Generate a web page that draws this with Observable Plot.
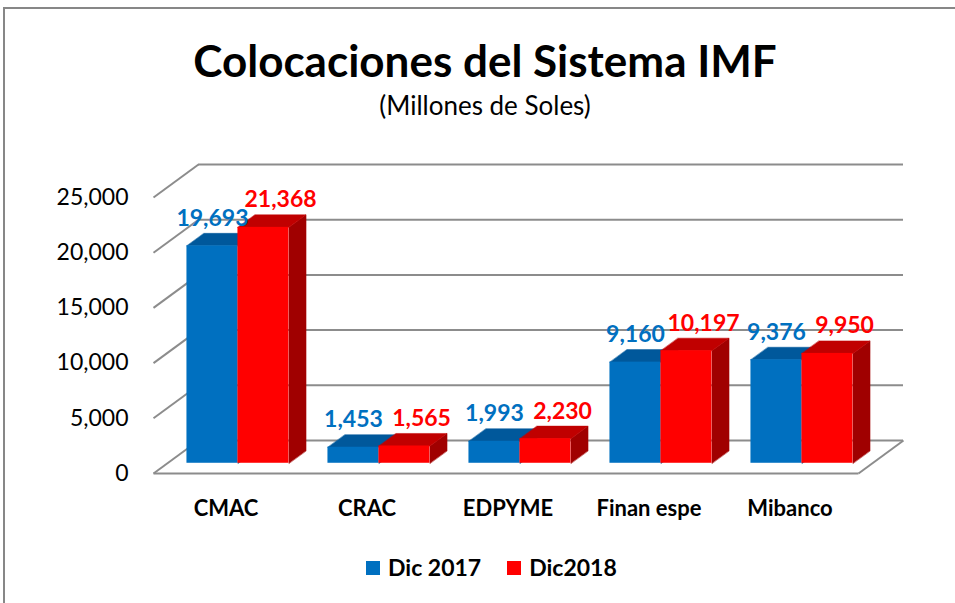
<!DOCTYPE html>
<html>
<head>
<meta charset="utf-8">
<script src="https://cdn.jsdelivr.net/npm/d3@7"></script>
<script src="https://cdn.jsdelivr.net/npm/@observablehq/plot@0.6"></script>
<style>
  html, body { margin: 0; padding: 0; background: #fff; overflow: hidden; width: 955px; height: 603px; }
  body { position: relative; font-family: Lato, sans-serif; color: #000; }
  #frame { position: absolute; left: 3px; top: 7px; width: 1000px; height: 700px;
           border-left: 2px solid #878787; border-top: 2px solid #878787; }
  #title { position: absolute; left: 0; width: 970px; top: 34px; text-align: center;
           font-weight: 700; font-size: 44px; line-height: 1.2; white-space: nowrap; }
  #subtitle { position: absolute; left: 0; width: 970px; top: 90px; text-align: center;
              font-weight: 400; font-size: 26px; line-height: 1.2; white-space: nowrap; }
  #chart { position: absolute; left: 0; top: 140px; }
  #legend { position: absolute; left: 366px; top: 554px; display: flex; align-items: center;
            font-weight: 700; font-size: 23px; line-height: 1.2; white-space: nowrap; }
  #legend .sw { display: inline-block; width: 14px; height: 14px; margin-right: 8px; }
  #legend .item { display: flex; align-items: center; }
  #legend .item + .item { margin-left: 26px; }
</style>
</head>
<body>
<div id="frame"></div>
<div id="title">Colocaciones del Sistema IMF</div>
<div id="subtitle">(Millones de Soles)</div>
<div id="chart"></div>
<div id="legend"></div>
<script>
// ---- data ----
const categories = ["CMAC", "CRAC", "EDPYME", "Finan espe", "Mibanco"];
const dic2017 = [19693, 1453, 1993, 9160, 9376];
const dic2018 = [21368, 1565, 2230, 10197, 9950];
const seriesNames = ["Dic 2017", "Dic2018"];
const yTicks = [0, 5000, 10000, 15000, 20000, 25000];

// ---- styles ----
const frontColors = ["#0070C0", "#FF0000"];
const topColors = ["#00589B", "#C00000"];
const sideColors = ["#004A80", "#A00000"];
const labelColors = ["#0070C0", "#FF0000"];
const gridColor = "#8C8C8C";

// ---- layout ----
const W = 955, H = 390, ML = 153, MR = 97, MT = 57, MB = 57;
const yMax = 25000;
const pxPerCat = (W - ML - MR) / categories.length;
const pxPerVal = (H - MT - MB) / yMax;
const DX = 45 / pxPerCat;   // wall depth, x units
const DV = 33 / pxPerVal;   // wall depth, value units
const F = 0.31;             // bar front plane as fraction of depth
const B = 0.38;             // bar depth as fraction of depth
const BW = 51 / pxPerCat;   // bar width, x units

const allSeries = [dic2017, dic2018];
const bars = [];
categories.forEach((c, i) => {
  allSeries.forEach((vals, s) => {
    const x1 = i + 0.5 - BW + s * BW + F * DX;
    const x2 = x1 + BW;
    const y0 = F * DV;
    const v = vals[i];
    bars.push({ c, s, v, x1, x2, y0, y1: v + y0 });
  });
});
const ddx = B * DX, ddv = B * DV;
const topPts = [], sidePts = [];
bars.forEach((b, k) => {
  const key = k;
  topPts.push(
    { key, s: b.s, x: b.x1, y: b.y1 },
    { key, s: b.s, x: b.x2, y: b.y1 },
    { key, s: b.s, x: b.x2 + ddx, y: b.y1 + ddv },
    { key, s: b.s, x: b.x1 + ddx, y: b.y1 + ddv }
  );
  sidePts.push(
    { key, s: b.s, x: b.x2, y: b.y0 },
    { key, s: b.s, x: b.x2, y: b.y1 },
    { key, s: b.s, x: b.x2 + ddx, y: b.y1 + ddv },
    { key, s: b.s, x: b.x2 + ddx, y: b.y0 + ddv }
  );
});

const nC = categories.length;
const fmt = d3.format(",");

const marks = [
  // back wall gridlines
  Plot.ruleY(yTicks, { y: d => d + DV, x1: () => DX, x2: () => nC + DX, stroke: gridColor, strokeWidth: 2 }),
  // side wall diagonals
  Plot.link(yTicks, { x1: () => 0, y1: d => d, x2: () => DX, y2: d => d + DV, stroke: gridColor, strokeWidth: 2 }),
  // floor front and right edges
  Plot.link([0], { x1: () => 0, y1: () => 0, x2: () => nC, y2: () => 0, stroke: gridColor, strokeWidth: 2 }),
  Plot.link([0], { x1: () => nC, y1: () => 0, x2: () => nC + DX, y2: () => DV, stroke: gridColor, strokeWidth: 2 })
];

[0, 1].forEach(s => {
  marks.push(
    Plot.line(sidePts.filter(p => p.s === s), { x: "x", y: "y", z: "key", curve: "linear-closed", fill: sideColors[s], stroke: sideColors[s], strokeWidth: 0.5 }),
    Plot.line(topPts.filter(p => p.s === s), { x: "x", y: "y", z: "key", curve: "linear-closed", fill: topColors[s], stroke: topColors[s], strokeWidth: 0.5 }),
    Plot.rect(bars.filter(b => b.s === s), { x1: "x1", x2: "x2", y1: "y0", y2: "y1", fill: frontColors[s] })
  );
});

[0, 1].forEach(s => {
  marks.push(
    Plot.text(bars.filter(b => b.s === s), {
      x: b => (b.x1 + b.x2) / 2 + (s === 1 ? ddx : 0),
      y: "y1",
      text: b => fmt(b.v),
      dy: -20,
      lineAnchor: "bottom",
      fill: labelColors[s],
      fontWeight: "bold",
      fontSize: 23
    })
  );
});

marks.push(
  Plot.text(categories, {
    x: (d, i) => i + 0.5,
    y: () => 0,
    text: d => d,
    dy: 35,
    dx: 2,
    lineAnchor: "middle",
    fontWeight: "bold",
    fontSize: 22,
    fill: "#000"
  })
);

const chart = Plot.plot({
  width: W,
  height: H,
  marginLeft: ML,
  marginRight: MR,
  marginTop: MT,
  marginBottom: MB,
  style: { fontFamily: "Lato, sans-serif", fontSize: "23px", color: "#000", background: "transparent", overflow: "visible" },
  x: { domain: [0, nC], axis: null },
  y: { domain: [0, yMax], ticks: yTicks, tickFormat: d => fmt(d), tickSize: 0, tickPadding: 25, label: null },
  marks
});
document.getElementById("chart").appendChild(chart);

// legend
const legend = document.getElementById("legend");
seriesNames.forEach((name, s) => {
  const item = document.createElement("div");
  item.className = "item";
  const sw = document.createElement("span");
  sw.className = "sw";
  sw.style.background = frontColors[s];
  const t = document.createElement("span");
  t.textContent = name;
  item.appendChild(sw);
  item.appendChild(t);
  legend.appendChild(item);
});
</script>
</body>
</html>
